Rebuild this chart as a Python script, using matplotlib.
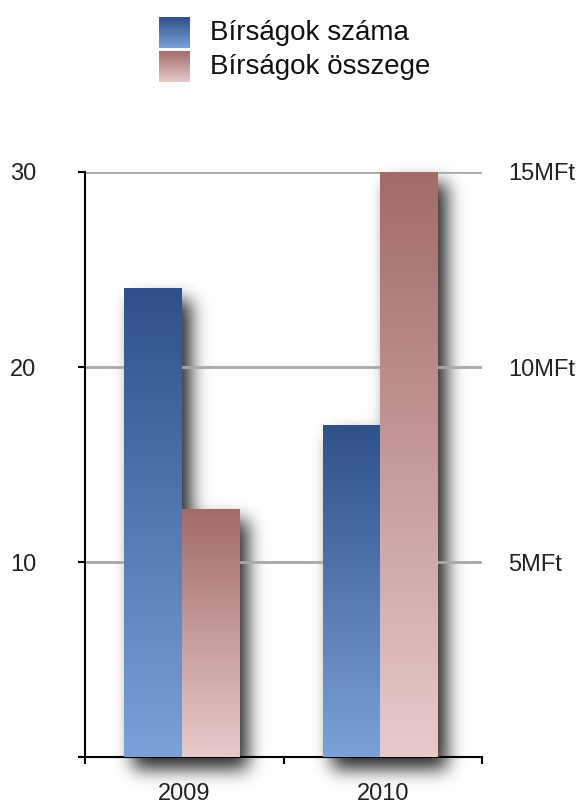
import numpy as np
import matplotlib
matplotlib.use('Agg')
import matplotlib.pyplot as plt
from matplotlib.colors import to_rgb

# adatok
years = ['2009', '2010']
fine_counts = [24, 17]          # Bírságok száma (bal tengely)
fine_amounts = [6.35, 15]       # Bírságok összege, MFt (jobb tengely)
left_ticks = [10, 20, 30]
right_ticks = [5, 10, 15]
right_labels = ['5MFt', '10MFt', '15MFt']
legend_labels = ['Bírságok száma', 'Bírságok összege']

blue_top, blue_bottom = '#2f5088', '#7ca0d8'
pink_top, pink_bottom = '#a26b6b', '#e8caca'

plt.rcParams['font.family'] = ['Liberation Sans', 'DejaVu Sans']

W, H, DPI = 579, 805, 100
fig = plt.figure(figsize=(W / DPI, H / DPI), dpi=DPI)


def gradient(c_top, c_bot, n=256):
    t = np.linspace(0, 1, n)[:, None]
    a, b = np.array(to_rgb(c_top)), np.array(to_rgb(c_bot))
    return (a + (b - a) * t)[:, None, :]


def blur(img, sigma):
    r = int(sigma * 3)
    k = np.exp(-0.5 * (np.arange(-r, r + 1) / sigma) ** 2)
    k /= k.sum()
    img = np.apply_along_axis(lambda v: np.convolve(v, k, mode='same'), 0, img)
    img = np.apply_along_axis(lambda v: np.convolve(v, k, mode='same'), 1, img)
    return img


ax = fig.add_axes([85 / W, 48 / H, 397 / W, 585 / H])
ax2 = ax.twinx()
ax.patch.set_visible(False)
ax2.patch.set_visible(False)

x = np.arange(len(years)) + 0.5
bw = 0.29
shift = -0.012

bars = []
for i in range(len(years)):
    x0 = x[i] + shift - bw
    ax.imshow(gradient(blue_top, blue_bottom), extent=[x0, x0 + bw, 0, fine_counts[i]],
              aspect='auto', origin='upper', zorder=3, interpolation='bilinear')
    bars.append((ax, x0, x0 + bw, fine_counts[i]))
    x1 = x[i] + shift
    ax2.imshow(gradient(pink_top, pink_bottom), extent=[x1, x1 + bw, 0, fine_amounts[i]],
               aspect='auto', origin='upper', zorder=3, interpolation='bilinear')
    bars.append((ax2, x1, x1 + bw, fine_amounts[i]))

ax.set_xlim(0, 2)
ax.set_ylim(0, 30)
ax2.set_xlim(0, 2)
ax2.set_ylim(0, 15)

# árnyék az oszlopok mögött
mask = np.zeros((H, W))
for a, xa, xb, h in bars:
    (px0, py0), (px1, py1) = a.transData.transform([(xa, 0), (xb, h)])
    c0, c1 = int(round(px0)) + 9, int(round(px1)) + 9
    r0, r1 = H - int(round(py1)) + 11, H - int(round(py0)) + 12
    mask[max(r0, 0):min(r1, H), max(c0, 0):min(c1, W)] = 1
mask = blur(mask, 9)
shadow = np.zeros((H, W, 4))
shadow[..., 3] = np.clip(mask * 0.85, 0, 1)
fig.figimage(shadow, xo=0, yo=0, origin='upper', zorder=-1)

# tengelyek
ax.set_yticks(left_ticks + [0])
ax.set_yticklabels([str(t) for t in left_ticks] + [''])
ax.grid(axis='y', color='#a8a8a8', linewidth=2)
ax.set_axisbelow(True)
ax.set_xticks([0, 1, 2])
ax.set_xticklabels([])
ax.set_xticks(x, minor=True)
ax.set_xticklabels(years, minor=True)
ax.tick_params(axis='x', which='minor', length=0, pad=19, labelsize=17, labelcolor='#222222')
ax.tick_params(axis='x', which='major', length=5, width=1.5, direction='out')
ax.tick_params(axis='y', length=5, width=1.5, direction='out', pad=30, labelsize=17,
               labelcolor='#222222')
for s in ['top', 'right']:
    ax.spines[s].set_visible(False)
for s in ['left', 'bottom']:
    ax.spines[s].set_linewidth(1.5)

ax2.set_yticks(right_ticks)
ax2.set_yticklabels(right_labels)
ax2.tick_params(axis='y', length=0, pad=19, labelsize=17, labelcolor='#222222')
for s in ax2.spines.values():
    s.set_visible(False)

# jelmagyarázat
for j, (ct, cb) in enumerate([(blue_top, blue_bottom), (pink_top, pink_bottom)]):
    top = 17 + j * 34
    lax = fig.add_axes([159 / W, 1 - (top + 31) / H, 31 / W, 31 / H])
    lax.imshow(gradient(ct, cb), aspect='auto', interpolation='bilinear')
    lax.axis('off')
    fig.text(210 / W, 1 - (top + 16) / H, legend_labels[j], fontsize=20,
             va='center', ha='left', color='#111111')

fig.savefig('out.png', dpi=DPI)
